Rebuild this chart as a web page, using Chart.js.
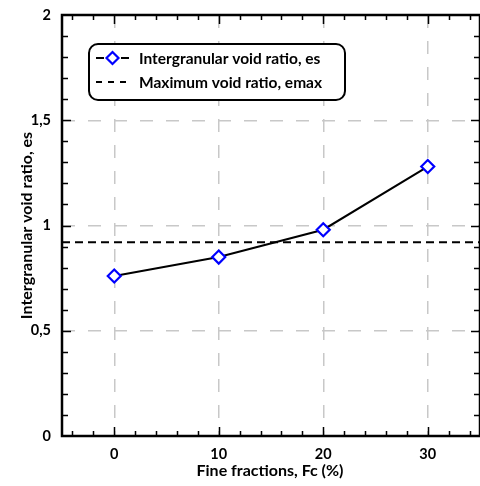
<!DOCTYPE html>
<html>
<head>
<meta charset="utf-8">
<script src="https://cdn.jsdelivr.net/npm/chart.js@4"></script>
<style>
  html, body { margin: 0; padding: 0; background: #fff; }
  #wrap { width: 480px; height: 486px; }
</style>
</head>
<body>
<div id="wrap"><canvas id="chart" width="480" height="486"></canvas></div>
<script>
// data
const fines = [0, 10, 20, 30];
const voidRatio = [0.76, 0.85, 0.98, 1.28];
const emax = 0.92;
const xTicks = [0, 10, 20, 30];
const yTicks = [0, 0.5, 1, 1.5, 2];
const labels = ["Intergranular void ratio, es", "Maximum void ratio, emax"];
const xTitle = "Fine fractions, Fc (%)";
const yTitle = "Intergranular void ratio, es";

const FONT = "Lato, 'Open Sans', sans-serif";

// frame, inward ticks, axis titles and legend box
const framePlugin = {
  id: "frame",
  afterDraw(chart) {
    const ctx = chart.ctx;
    const a = chart.chartArea;
    const xs = chart.scales.x, ys = chart.scales.y;
    ctx.save();
    ctx.strokeStyle = "#000";
    ctx.lineWidth = 1.5;
    ctx.beginPath();
    for (let v = -4; v <= 34; v += 2) {
      const px = Math.round(xs.getPixelForValue(v)) + 0.5;
      const len = (v % 10 === 0) ? 9 : 5;
      ctx.moveTo(px, a.bottom); ctx.lineTo(px, a.bottom - len);
      ctx.moveTo(px, a.top); ctx.lineTo(px, a.top + len);
    }
    for (let i = 1; i < 20; i++) {
      const py = Math.round(ys.getPixelForValue(i / 10)) + 0.5;
      const len = (i % 5 === 0) ? 9 : 6;
      ctx.moveTo(a.left, py); ctx.lineTo(a.left + len, py);
      ctx.moveTo(a.right, py); ctx.lineTo(a.right - len, py);
    }
    ctx.stroke();
    ctx.lineWidth = 2.5;
    ctx.strokeRect(a.left, a.top, a.right - a.left, a.bottom - a.top);

    // axis titles
    ctx.fillStyle = "#000";
    ctx.font = "bold 16px " + FONT;
    ctx.textAlign = "center";
    ctx.textBaseline = "middle";
    ctx.fillText(xTitle, 270, 471);
    ctx.save();
    ctx.translate(27, (a.top + a.bottom) / 2);
    ctx.rotate(-Math.PI / 2);
    ctx.fillText(yTitle, 0, 0);
    ctx.restore();

    // legend box
    const bx = 89, by = 44, bw = 256, bh = 56, r = 9;
    ctx.lineWidth = 2;
    ctx.beginPath();
    ctx.roundRect(bx, by, bw, bh, r);
    ctx.fillStyle = "#fff";
    ctx.fill();
    ctx.stroke();

    ctx.font = "bold 15.5px " + FONT;
    ctx.fillStyle = "#000";
    ctx.textAlign = "left";
    const y1 = 58;
    ctx.lineWidth = 2;
    ctx.beginPath();
    ctx.moveTo(96, y1); ctx.lineTo(104, y1);
    ctx.moveTo(121, y1); ctx.lineTo(129, y1);
    ctx.stroke();
    ctx.strokeStyle = "#0000ff";
    ctx.lineWidth = 2.2;
    ctx.beginPath();
    ctx.moveTo(112.5, y1 - 6); ctx.lineTo(118.5, y1); ctx.lineTo(112.5, y1 + 6); ctx.lineTo(106.5, y1);
    ctx.closePath();
    ctx.stroke();
    ctx.fillText(labels[0], 139, y1 + 1);
    const y2 = 82;
    ctx.strokeStyle = "#000";
    ctx.lineWidth = 2;
    ctx.setLineDash([6, 6]);
    ctx.beginPath();
    ctx.moveTo(96, y2); ctx.lineTo(130, y2);
    ctx.stroke();
    ctx.setLineDash([]);
    ctx.fillText(labels[1], 139, y2 + 1);
    ctx.restore();
  }
};

new Chart(document.getElementById("chart"), {
  type: "scatter",
  data: {
    datasets: [
      {
        label: labels[1],
        data: [{ x: -5, y: emax }, { x: 35, y: emax }],
        showLine: true,
        borderColor: "#000",
        borderWidth: 2,
        borderDash: [8, 5],
        pointRadius: 0,
        pointHoverRadius: 0,
        order: 2
      },
      {
        label: labels[0],
        data: fines.map(function (f, i) { return { x: f, y: voidRatio[i] }; }),
        showLine: true,
        borderColor: "#000",
        borderWidth: 2,
        pointStyle: "rectRot",
        pointRadius: 6.5,
        pointBorderWidth: 2.2,
        pointBorderColor: "#0000ff",
        pointBackgroundColor: "#fff",
        order: 1
      }
    ]
  },
  options: {
    responsive: false,
    animation: false,
    layout: { autoPadding: false, padding: { top: 15, right: 0, left: 0, bottom: 0 } },
    plugins: { legend: { display: false }, tooltip: { enabled: false } },
    scales: {
      x: {
        type: "linear",
        min: -5, max: 35,
        afterBuildTicks: function (s) { s.ticks = xTicks.map(function (v) { return { value: v }; }); },
        afterFit: function (s) { s.height = 50; s.paddingLeft = 0; s.paddingRight = 0; },
        grid: { color: "#c8c8c8", lineWidth: 1.5, drawTicks: false },
        border: { display: false, dash: [13, 13] },
        ticks: { color: "#000", font: { family: FONT, size: 14.5, weight: "bold" }, padding: 10 }
      },
      y: {
        min: 0, max: 2,
        afterBuildTicks: function (s) { s.ticks = yTicks.map(function (v) { return { value: v }; }); },
        afterFit: function (s) { s.width = 62; s.paddingTop = 0; s.paddingBottom = 0; },
        grid: { color: "#c8c8c8", lineWidth: 1.5, drawTicks: false },
        border: { display: false, dash: [13, 13] },
        ticks: {
          color: "#000", font: { family: FONT, size: 14.5, weight: "bold" }, padding: 11,
          callback: function (v) { return String(v).replace(".", ","); }
        }
      }
    }
  },
  plugins: [framePlugin]
});
</script>
</body>
</html>
